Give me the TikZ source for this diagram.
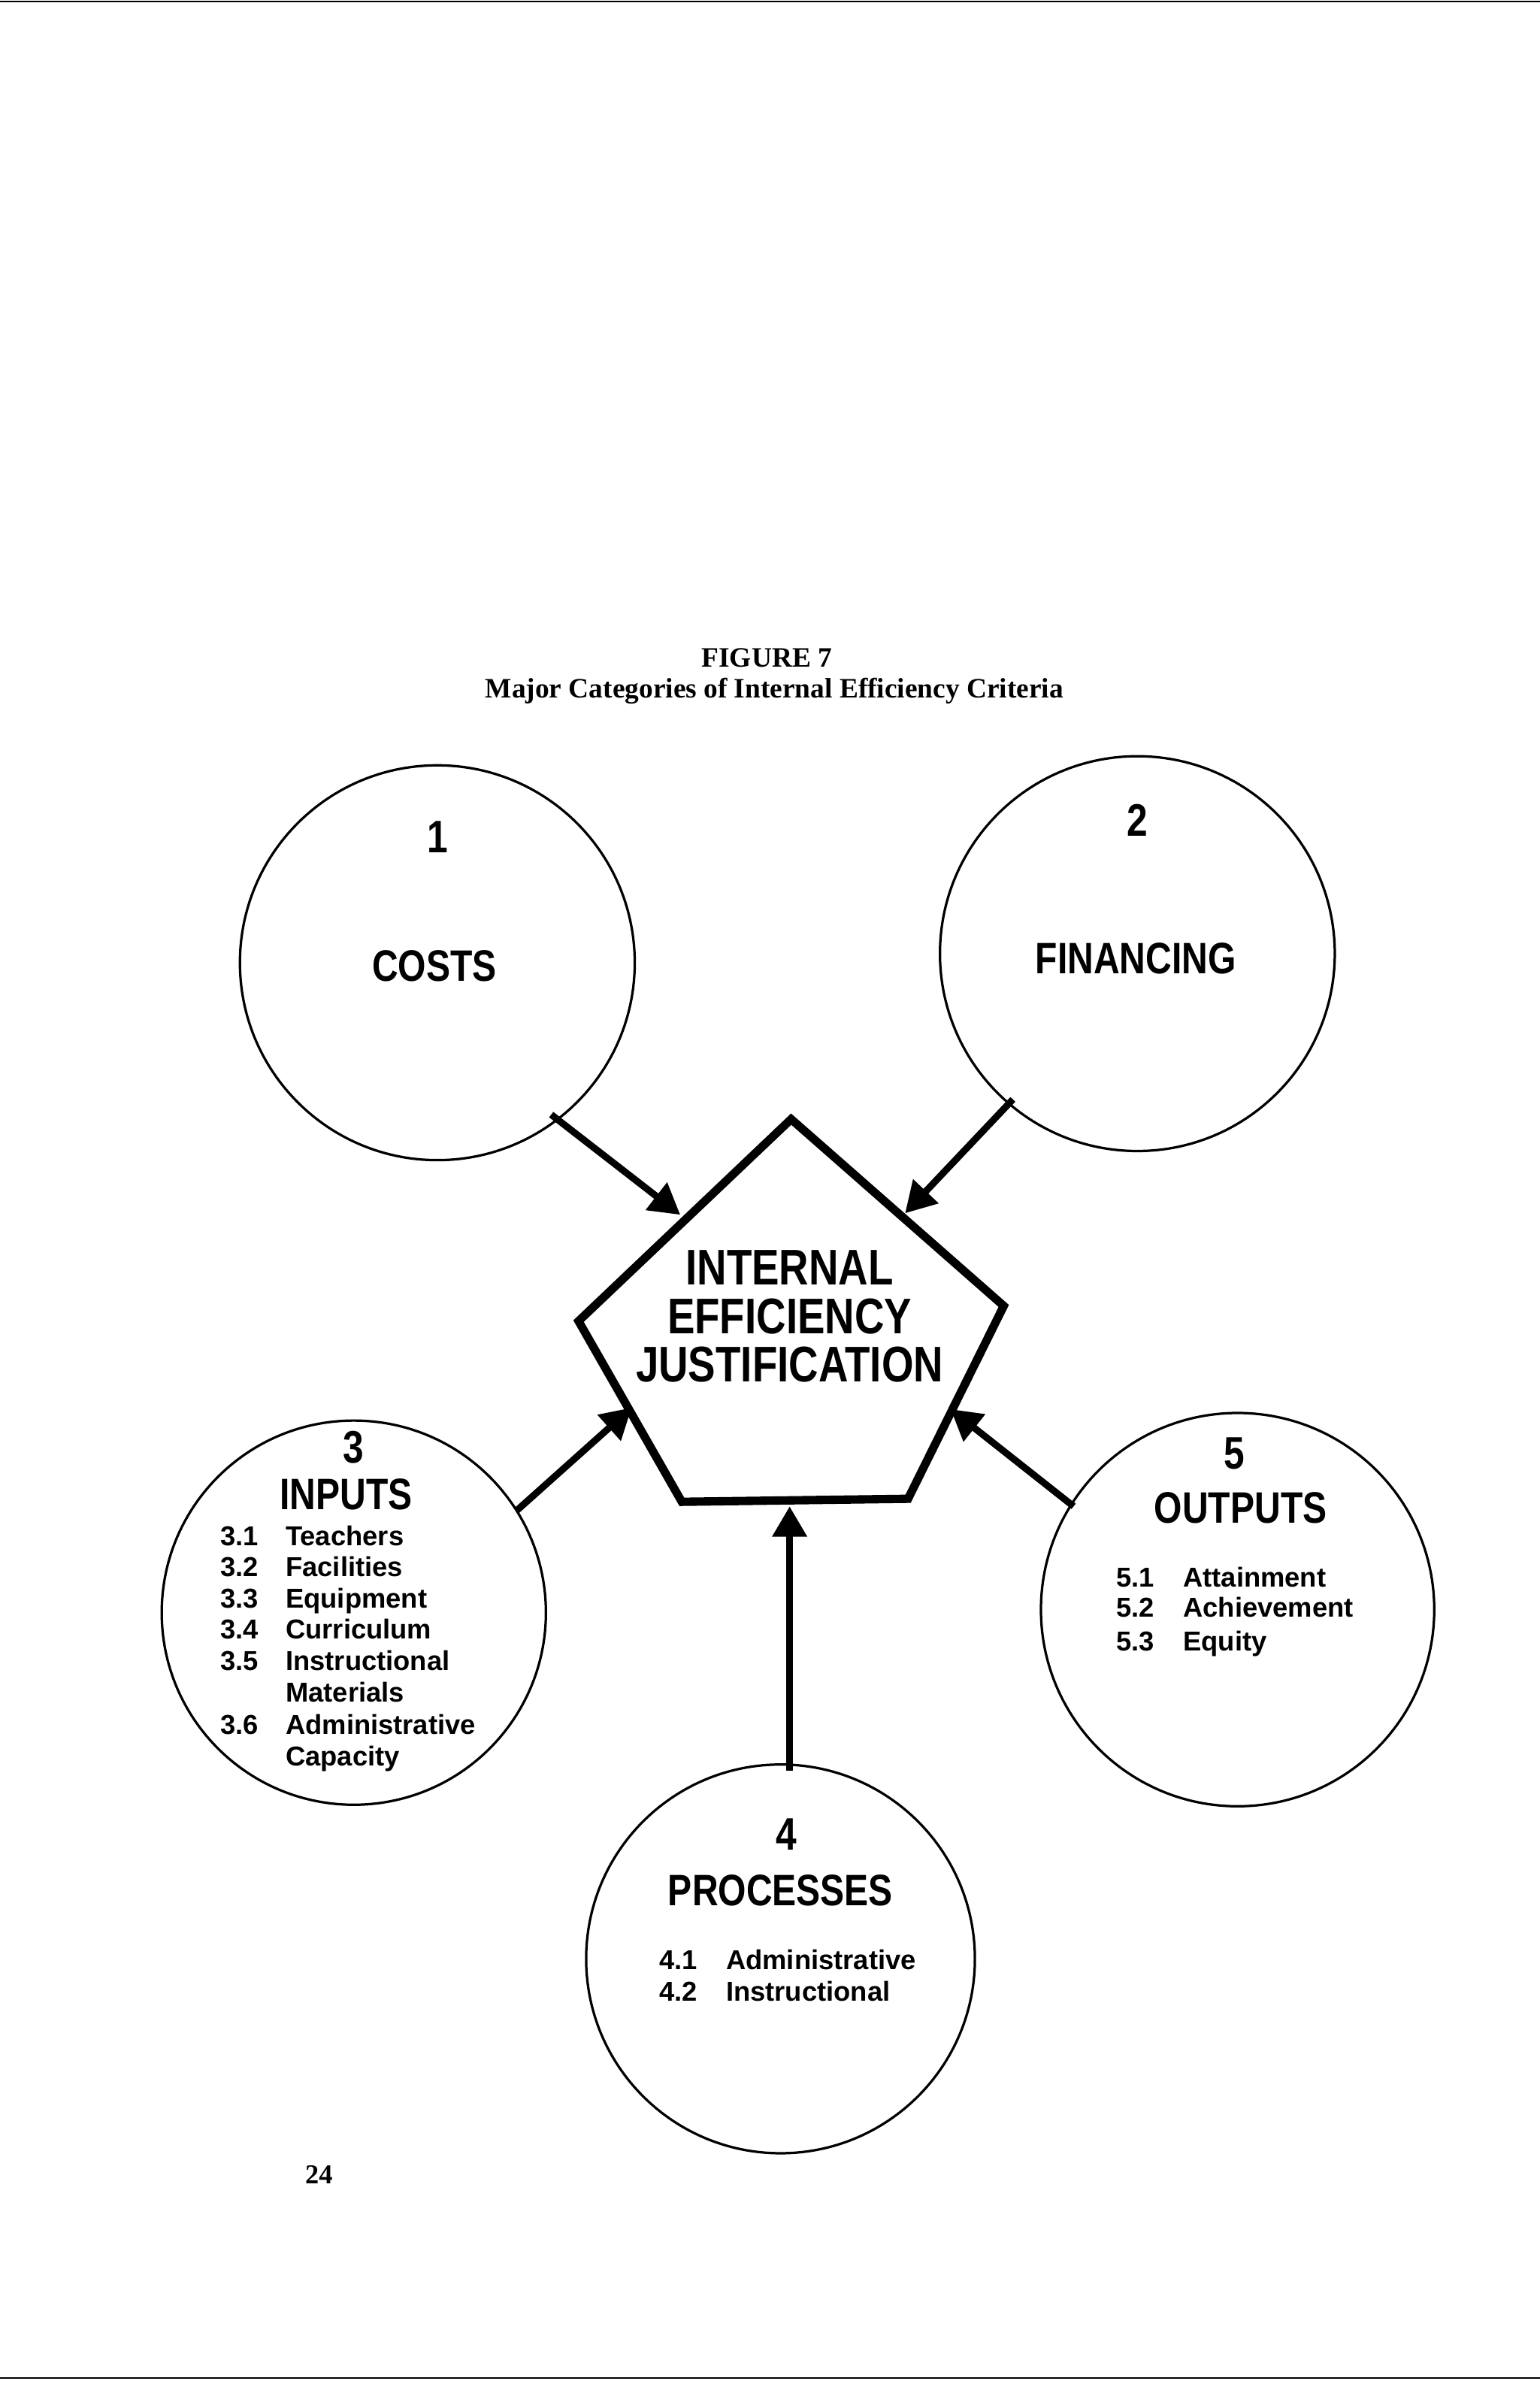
\documentclass[tikz,border=0pt]{standalone}
\usepackage{fontspec}
\setmainfont{Liberation Serif}
\newfontfamily\cond[FakeStretch=0.82]{Liberation Sans Bold}
\newfontfamily\itm{Liberation Sans Bold}
\usetikzlibrary{arrows.meta}
\begin{document}
\begin{tikzpicture}[x=1pt,y=-1pt,
  circ/.style={draw,line width=1.6pt,circle,minimum size=#1,inner sep=0},
  big/.style={font=\cond\fontsize{29}{32}\selectfont,inner sep=0},
  num/.style={font=\cond\fontsize{30}{32}\selectfont,inner sep=0},
  it/.style={font=\itm\fontsize{18}{20}\selectfont,anchor=base west,inner sep=0},
  arr/.style={line width=4.5pt,-{Triangle[length=20pt,width=22pt]}}]
\useasboundingbox (0,0) rectangle (1014,1568);
\draw[line width=1pt] (0,1) -- (1014,1);
\draw[line width=1pt] (0,1566) -- (1014,1566);
\node[font=\bfseries\fontsize{18.5}{20}\selectfont] (t1) at (505,433) {FIGURE 7};
\node[font=\bfseries\fontsize{18.5}{20}\selectfont] (t2) at (510,455) {Major Categories of Internal Efficiency Criteria};
\node[font=\bfseries\fontsize{18}{20}\selectfont] (pg) at (210,1432) {24};
% circles
\node[circ=260pt] (c1) at (288,634) {};
\node[circ=260pt] (c2) at (749,628) {};
\node[circ=253pt] (c3) at (233,1062) {};
\node[circ=256pt] (c4) at (514,1290) {};
\node[circ=259pt] (c5) at (815,1060) {};
% pentagon
\draw[line width=5.5pt,line join=miter] (521,737) -- (661,860) -- (598,987) -- (449,989) -- (381,870) -- cycle;
\coordinate (pA) at (448,800);
\coordinate (pB) at (596,799);
\coordinate (pC) at (416,927);
\coordinate (pD) at (626,928);
\coordinate (pE) at (520,992);
\node[font=\cond\fontsize{33}{36}\selectfont,align=center,inner sep=0] (pt) at (520,867) {INTERNAL\\[-4pt]EFFICIENCY\\[-4pt]JUSTIFICATION};
% arrows
\coordinate (a1) at (363,734);
\coordinate (a2) at (667,724);
\coordinate (a3) at (340,995);
\coordinate (a4) at (707,992);
\coordinate (a5) at (520,1166);
\draw[arr] (a1) -- (pA);
\draw[arr] (a2) -- (pB);
\draw[arr] (a3) -- (pC);
\draw[arr] (a4) -- (pD);
\draw[arr] (a5) -- (pE);
% labels
\node[num] (n1) at (288,551) {1};
\node[big] (l1) at (286,636) {COSTS};
\node[num] (n2) at (749,540) {2};
\node[big] (l2) at (748,631) {FINANCING};
\node[num] (n3) at (233,953) {3};
\node[big] (l3) at (228,984) {INPUTS};
\node[num] (n5) at (813,957) {5};
\node[big] (l5) at (817,993) {OUTPUTS};
\node[num] (n4) at (518,1208) {4};
\node[big] (l4) at (514,1245) {PROCESSES};
% lists
\foreach \n/\t/\y in {3.1/Teachers/1018,3.2/Facilities/1038,3.3/Equipment/1059,3.4/Curriculum/1079,3.5/Instructional/1100,{}/Materials/1121,3.6/Administrative/1142,{}/Capacity/1163}{
  \node[it] at (145,\y) {\n};
  \node[it] at (188,\y) {\t};
}
\foreach \n/\t/\y in {5.1/Attainment/1045,5.2/Achievement/1065,5.3/Equity/1087}{
  \node[it] at (735,\y) {\n};
  \node[it] at (779,\y) {\t};
}
\foreach \n/\t/\y in {4.1/Administrative/1297,4.2/Instructional/1318}{
  \node[it] at (434,\y) {\n};
  \node[it] at (478,\y) {\t};
}
\end{tikzpicture}
\end{document}
